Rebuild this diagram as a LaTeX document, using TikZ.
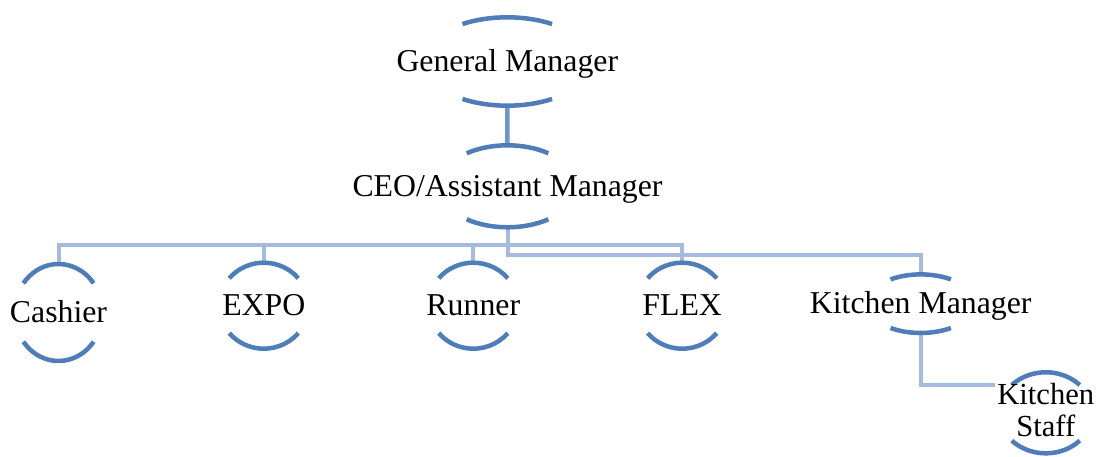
\documentclass[tikz,border=0pt]{standalone}
\usepackage{fontspec}
\setmainfont{Liberation Serif}
\definecolor{arcblue}{RGB}{78,125,184}
\definecolor{linkmid}{RGB}{112,150,201}
\definecolor{linklight}{RGB}{166,186,219}
\tikzset{
  lbl/.style={inner sep=0pt, font=\fontsize{31.8}{36}\selectfont, text=black},
  arcline/.style={draw=arcblue, line width=4.5pt},
  uplink/.style={draw=linkmid, line width=4.5pt},
  sublink/.style={draw=linklight, line width=4pt},
}
% #1 name, #2 cx, #3 cy, #4 x radius, #5 y radius, #6 arc half-angle, #7 baseline, #8 label
\newcommand\orgunit[8]{%
  \coordinate (#1-top) at (#2,{#3+#5});
  \coordinate (#1-bot) at (#2,{#3-#5});
  \draw[arcline] ({#2+#4*cos(#6)},{#3+#5*sin(#6)})
      arc[start angle=#6, end angle=180-#6, x radius=#4, y radius=#5];
  \draw[arcline] ({#2+#4*cos(#6)},{#3-#5*sin(#6)})
      arc[start angle=-#6, end angle=-180+#6, x radius=#4, y radius=#5];
  \node[lbl, anchor=base] (#1) at (#2,#7) {#8};
}
\begin{document}
\begin{tikzpicture}[x=1pt, y=1pt]
\useasboundingbox (0,0) rectangle (1096,457);
% anchor points of every unit, so the links can be drawn first
\coordinate (gm-bot)  at (507.3,{395.5-44.2});
\coordinate (ceo-top) at (507.5,{270.7+41});
\coordinate (ceo-bot) at (507.5,{270.7-41});
\coordinate (ca-top)  at (58.5,{144.5+48.5});
\coordinate (ex-top)  at (263.8,{151.3+43});
\coordinate (ru-top)  at (473.3,{151.3+43});
\coordinate (fl-top)  at (682.2,{151.3+43});
\coordinate (km-top)  at (920.7,{153.3+29.3});
\coordinate (km-bot)  at (920.7,{153.3-29.3});
\coordinate (bus)     at (0,212);
\coordinate (bus2)    at (0,202);
\coordinate (ks-in)   at (995,72);
% links
\draw[uplink] (gm-bot) -- (ceo-top);
\draw[sublink] (ca-top) -- (ca-top |- bus) -| (fl-top);
\draw[sublink] (ex-top) -- (ex-top |- bus);
\draw[sublink] (ru-top) -- (ru-top |- bus);
\draw[sublink] (ceo-bot) -- (ceo-bot |- bus2) -| (km-top);
\draw[sublink] (km-bot) |- (ks-in);
% units
\orgunit{gm}{507.3}{395.5}{84.5}{44.2}{58}{385.3}{General Manager}
\orgunit{ceo}{507.5}{270.7}{68.8}{41}{53.6}{260}{CEO/Assistant Manager}
\orgunit{ca}{58.5}{144.5}{44}{48.5}{37}{134}{Cashier}
\orgunit{ex}{263.8}{151.3}{44.8}{43}{39.6}{141}{EXPO}
\orgunit{ru}{473.3}{151.3}{44.8}{43}{39.6}{141}{Runner}
\orgunit{fl}{682.2}{151.3}{44.8}{43}{39.6}{141}{FLEX}
\orgunit{km}{920.7}{153.3}{54}{29.3}{56}{143}{Kitchen Manager}
\orgunit{ks}{1045.8}{44.2}{46.7}{40.5}{43.3}{20}{\fontsize{30.6}{32}\selectfont\begin{tabular}[b]{@{}c@{}}Kitchen\\Staff\end{tabular}}
\end{tikzpicture}
\end{document}
